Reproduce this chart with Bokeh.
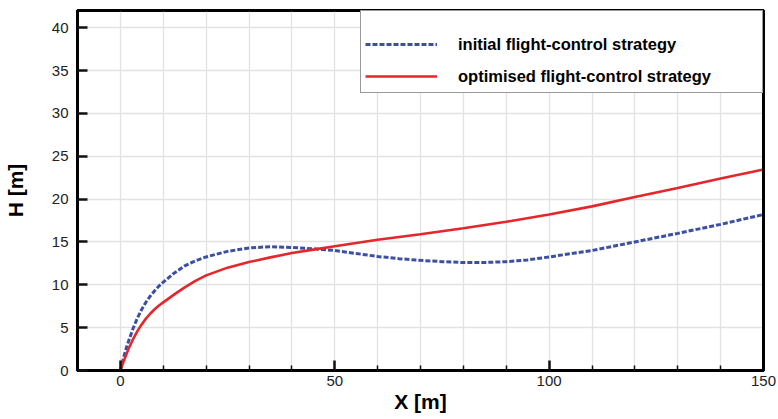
from bokeh.plotting import figure
from bokeh.models import Range1d, FixedTicker, Legend, LegendItem, LinearAxis
from bokeh.embed import file_html
from bokeh.resources import INLINE

# ---- data ----
x_init = [0, 0.5, 1, 1.5, 2, 3, 4, 5, 6, 7, 8, 9, 10, 12.5, 15, 17.5, 20, 25, 30, 35, 40, 45, 50, 55,
          60, 65, 70, 75, 80, 85, 90, 95, 100, 110, 120, 130, 140, 150]
h_init = [0, 1.0, 1.95, 2.8, 3.55, 4.95, 6.15, 7.15, 8.0, 8.7, 9.3, 9.85, 10.3, 11.35, 12.2, 12.8, 13.25, 13.9, 14.3, 14.45, 14.35, 14.2, 14.0, 13.65,
          13.3, 13.05, 12.85, 12.7, 12.6, 12.6, 12.7, 12.9, 13.25, 14.0, 15.0, 16.0, 17.05, 18.2]

x_opt = [0, 0.5, 1, 1.5, 2, 3, 4, 5, 6, 7, 8, 9, 10, 12.5, 15, 17.5, 20, 25, 30, 35, 40, 45, 50,
         60, 70, 80, 90, 100, 110, 120, 130, 140, 150]
h_opt = [0, 0.7, 1.38, 2.02, 2.62, 3.7, 4.62, 5.4, 6.08, 6.65, 7.15, 7.58, 7.95, 8.85, 9.7, 10.45, 11.1, 12.0, 12.65, 13.2, 13.7, 14.1, 14.5,
         15.25, 15.9, 16.6, 17.35, 18.2, 19.15, 20.25, 21.3, 22.4, 23.45]

label_init = "initial flight-control strategy"
label_opt = "optimised flight-control strategy"

x_major_ticks = [0, 50, 100, 150]
x_minor_ticks = [10, 20, 30, 40, 60, 70, 80, 90, 110, 120, 130, 140]
x_grid_ticks = [0, 10, 20, 30, 40, 50, 60, 70, 80, 90, 100, 110, 120, 130, 140, 150]
y_ticks = [0, 5, 10, 15, 20, 25, 30, 35, 40]

FONT = "Liberation Sans"

p = figure(width=778, height=419,
           x_range=Range1d(-10, 150), y_range=Range1d(0, 42),
           output_backend="svg", toolbar_location=None,
           min_border_left=76, min_border_right=15,
           min_border_top=10, min_border_bottom=49)

p.background_fill_color = "white"
p.border_fill_color = "white"
p.outline_line_color = "black"
p.outline_line_width = 3

# grids
p.xgrid.ticker = FixedTicker(ticks=x_grid_ticks)
p.ygrid.ticker = FixedTicker(ticks=y_ticks)
for g in (p.xgrid, p.ygrid):
    g.grid_line_color = "#e2e2e2"
    g.grid_line_width = 1.3

# axes
p.xaxis.ticker = FixedTicker(ticks=x_major_ticks, minor_ticks=x_minor_ticks)
p.yaxis.ticker = FixedTicker(ticks=y_ticks)
for ax in (p.xaxis, p.yaxis):
    ax.axis_line_color = "black"
    ax.axis_line_width = 3
    ax.major_tick_in = 10
    ax.major_tick_out = 0
    ax.major_tick_line_color = "#111111"
    ax.major_tick_line_width = 2.5
    ax.minor_tick_in = 5
    ax.minor_tick_out = 0
    ax.minor_tick_line_color = "#111111"
    ax.minor_tick_line_width = 1.5
    ax.major_label_text_font = FONT
    ax.major_label_text_font_size = "15px"
    ax.major_label_text_color = "#222222"
    ax.axis_label_text_font = FONT
    ax.axis_label_text_font_style = "bold"
    ax.axis_label_text_font_size = "21px"
    ax.axis_label_text_color = "black"

p.yaxis.minor_tick_line_color = None
p.xaxis.axis_label = "X [m]"
p.yaxis.axis_label = "H [m]"
p.xaxis.major_label_standoff = 5
p.xaxis.axis_label_standoff = 1
p.yaxis.major_label_standoff = 9
p.yaxis.axis_label_standoff = 22

# frame lines on top and right
for place, width in (("right", 3), ("above", 2.5)):
    fa = LinearAxis(ticker=FixedTicker(ticks=[]), axis_line_color="black",
                    axis_line_width=width, major_tick_line_color=None,
                    minor_tick_line_color=None, major_label_text_alpha=0,
                    major_tick_out=0, minor_tick_out=0, major_label_standoff=0)
    p.add_layout(fa, place)

r_init = p.line(x_init, h_init, line_color="#3c50a2", line_width=3, line_dash="5 2")
r_opt = p.line(x_opt, h_opt, line_color="#e6262a", line_width=2.6)

legend = Legend(items=[LegendItem(label=label_init, renderers=[r_init]),
                       LegendItem(label=label_opt, renderers=[r_opt])],
                location="top_right", margin=0,
                title=" ", title_text_font_size="12px", title_standoff=3,
                padding=4, spacing=8, label_height=24, glyph_height=24,
                glyph_width=72, label_standoff=21, label_width=300,
                border_line_color="#333333", border_line_width=1.5,
                background_fill_color="white", background_fill_alpha=1,
                label_text_font=FONT, label_text_font_style="bold",
                label_text_font_size="16.5px", label_text_color="black")
p.add_layout(legend)

open("out.html", "w").write(file_html(p, INLINE))
